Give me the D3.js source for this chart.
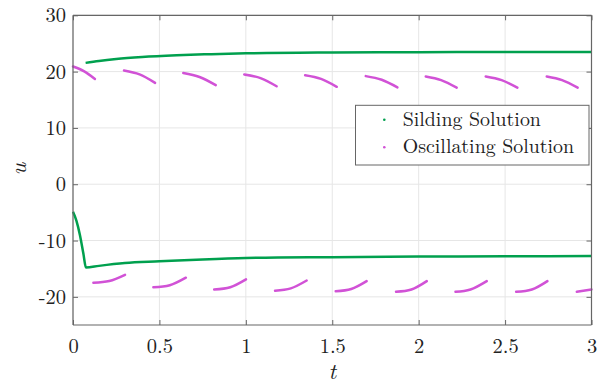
<!DOCTYPE html>
<html>
<head>
<meta charset="utf-8">
<script src="https://cdn.jsdelivr.net/npm/d3@7"></script>
<style>
  body { margin: 0; background: #fff; }
  svg { display: block; }
</style>
</head>
<body>
<svg width="608" height="383"></svg>
<script>
// sliding solution, two branches (t, u)
const slideTop = [[0.073, 21.55], [0.15, 21.9], [0.25, 22.25], [0.4, 22.6], [0.6, 22.9], [0.8, 23.1],
  [1.0, 23.25], [1.5, 23.4], [2.0, 23.45], [2.5, 23.5], [3.0, 23.5]];
const slideBottom = [[0, -4.9], [0.02, -6.5], [0.04, -9.0], [0.06, -12.3], [0.075, -14.8], [0.15, -14.5],
  [0.3, -14.0], [0.5, -13.7], [0.75, -13.35], [1.0, -13.1], [1.5, -12.95], [2.0, -12.85], [2.5, -12.8], [3.0, -12.75]];

// oscillating solution, pieces
const oscTop = [
  [[0, 20.9], [0.065, 20.05], [0.127, 18.7]],
  [[0.295, 20.2], [0.385, 19.5], [0.475, 18.0]],
  [[0.638, 19.75], [0.732, 19.05], [0.826, 17.6]],
  [[0.991, 19.5], [1.085, 18.85], [1.178, 17.4]],
  [[1.343, 19.35], [1.435, 18.7], [1.526, 17.3]],
  [[1.694, 19.2], [1.786, 18.55], [1.877, 17.2]],
  [[2.041, 19.15], [2.13, 18.5], [2.22, 17.15]],
  [[2.388, 19.15], [2.48, 18.5], [2.571, 17.15]],
  [[2.741, 19.15], [2.83, 18.5], [2.92, 17.15]]
];
const oscBottom = [
  [[0.118, -17.5], [0.21, -17.2], [0.301, -16.1]],
  [[0.465, -18.3], [0.56, -17.95], [0.653, -16.6]],
  [[0.817, -18.7], [0.91, -18.3], [1.001, -16.9]],
  [[1.169, -18.9], [1.26, -18.5], [1.352, -17.1]],
  [[1.52, -19.0], [1.61, -18.6], [1.699, -17.2]],
  [[1.869, -19.1], [1.958, -18.7], [2.047, -17.2]],
  [[2.213, -19.1], [2.30, -18.7], [2.394, -17.2]],
  [[2.564, -19.1], [2.655, -18.7], [2.745, -17.2]],
  [[2.915, -19.1], [3.0, -18.7]]
];

const xTicks = [0, 0.5, 1, 1.5, 2, 2.5, 3];
const yTicks = [-20, -10, 0, 10, 20, 30];
const legendNames = ["Silding Solution", "Oscillating Solution"];

const green = "#00a04e", magenta = "#d152d6";
const font = "'Latin Modern Roman', 'CMU Serif', 'Liberation Serif', serif";

const svg = d3.select("svg");
const pL = 73, pR = 591.5, pT = 15.3, pB = 325;

const x = d3.scaleLinear().domain([0, 3]).range([pL, pR]);
const y = d3.scaleLinear().domain([-25, 30]).range([pB, pT]);

// grid
svg.append("g").selectAll("line").data(xTicks).join("line")
  .attr("x1", d => x(d)).attr("x2", d => x(d))
  .attr("y1", pT).attr("y2", pB)
  .attr("stroke", "#e6e6e6").attr("stroke-width", 1);
svg.append("g").selectAll("line").data(yTicks).join("line")
  .attr("x1", pL).attr("x2", pR)
  .attr("y1", d => y(d)).attr("y2", d => y(d))
  .attr("stroke", "#e6e6e6").attr("stroke-width", 1);

const line = d3.line().x(d => x(d[0])).y(d => y(d[1])).curve(d3.curveNatural);
const lineM = d3.line().x(d => x(d[0])).y(d => y(d[1])).curve(d3.curveMonotoneX);

// oscillating pieces
const osc = oscTop.concat(oscBottom);
svg.append("g").selectAll("path").data(osc).join("path")
  .attr("d", d => line(d))
  .attr("fill", "none").attr("stroke", magenta)
  .attr("stroke-width", 2.5).attr("stroke-linecap", "round");

// sliding branches
svg.append("g").selectAll("path").data([slideTop, slideBottom]).join("path")
  .attr("d", d => lineM(d))
  .attr("fill", "none").attr("stroke", green)
  .attr("stroke-width", 2.5).attr("stroke-linejoin", "round");

// axes (box, ticks on all sides, pointing in)
const axisColor = "#666";
const tl = 5;
const axB = svg.append("g").attr("transform", `translate(0,${pB})`)
  .call(d3.axisBottom(x).tickValues(xTicks).tickSize(-tl).tickPadding(13).tickFormat(d => String(d)));
const axT = svg.append("g").attr("transform", `translate(0,${pT})`)
  .call(d3.axisTop(x).tickValues(xTicks).tickSize(-tl).tickFormat(""));
const axL = svg.append("g").attr("transform", `translate(${pL},0)`)
  .call(d3.axisLeft(y).tickValues(yTicks).tickSize(-tl).tickPadding(7).tickFormat(d => String(d)));
const axR = svg.append("g").attr("transform", `translate(${pR},0)`)
  .call(d3.axisRight(y).tickValues(yTicks).tickSize(-tl).tickFormat(""));

[axB, axT, axL, axR].forEach(a => {
  a.attr("font-family", null);
  a.select(".domain").attr("stroke", axisColor).attr("stroke-width", 1.2);
  a.selectAll(".tick line").attr("stroke", axisColor);
  a.selectAll("text").attr("fill", "#222").style("font-family", font).style("font-size", "20.5px");
});
axB.selectAll(".domain").attr("d", `M${pL},0H${pR}`);
axT.selectAll(".domain").attr("d", `M${pL},0H${pR}`);
axL.selectAll(".domain").attr("d", `M0,${pT}V${pB}`);
axR.selectAll(".domain").attr("d", `M0,${pT}V${pB}`);

// axis labels
svg.append("text").attr("x", (pL + pR) / 2).attr("y", 379)
  .attr("text-anchor", "middle").style("font-family", font)
  .style("font-style", "italic").style("font-size", "23px").attr("fill", "#222").text("t");
svg.append("text").attr("transform", `translate(26,169) rotate(-90)`)
  .attr("text-anchor", "middle").style("font-family", font)
  .style("font-style", "italic").style("font-size", "23px").attr("fill", "#222").text("u");

// legend
const lg = svg.append("g");
lg.append("rect").attr("x", 355.5).attr("y", 105.3).attr("width", 233.5).attr("height", 59.7)
  .attr("fill", "#fff").attr("stroke", "#666").attr("stroke-width", 1);
const items = lg.selectAll("g").data(legendNames).join("g")
  .attr("transform", (d, i) => `translate(0,${125.7 + i * 27.6})`);
items.append("circle").attr("cx", 384.3).attr("cy", -6).attr("r", 1.3)
  .attr("fill", (d, i) => i === 0 ? green : magenta);
items.append("text").attr("x", 402.7).attr("y", 0)
  .style("font-family", font).style("font-size", "19.9px").attr("fill", "#222")
  .text(d => d);
</script>
</body>
</html>
